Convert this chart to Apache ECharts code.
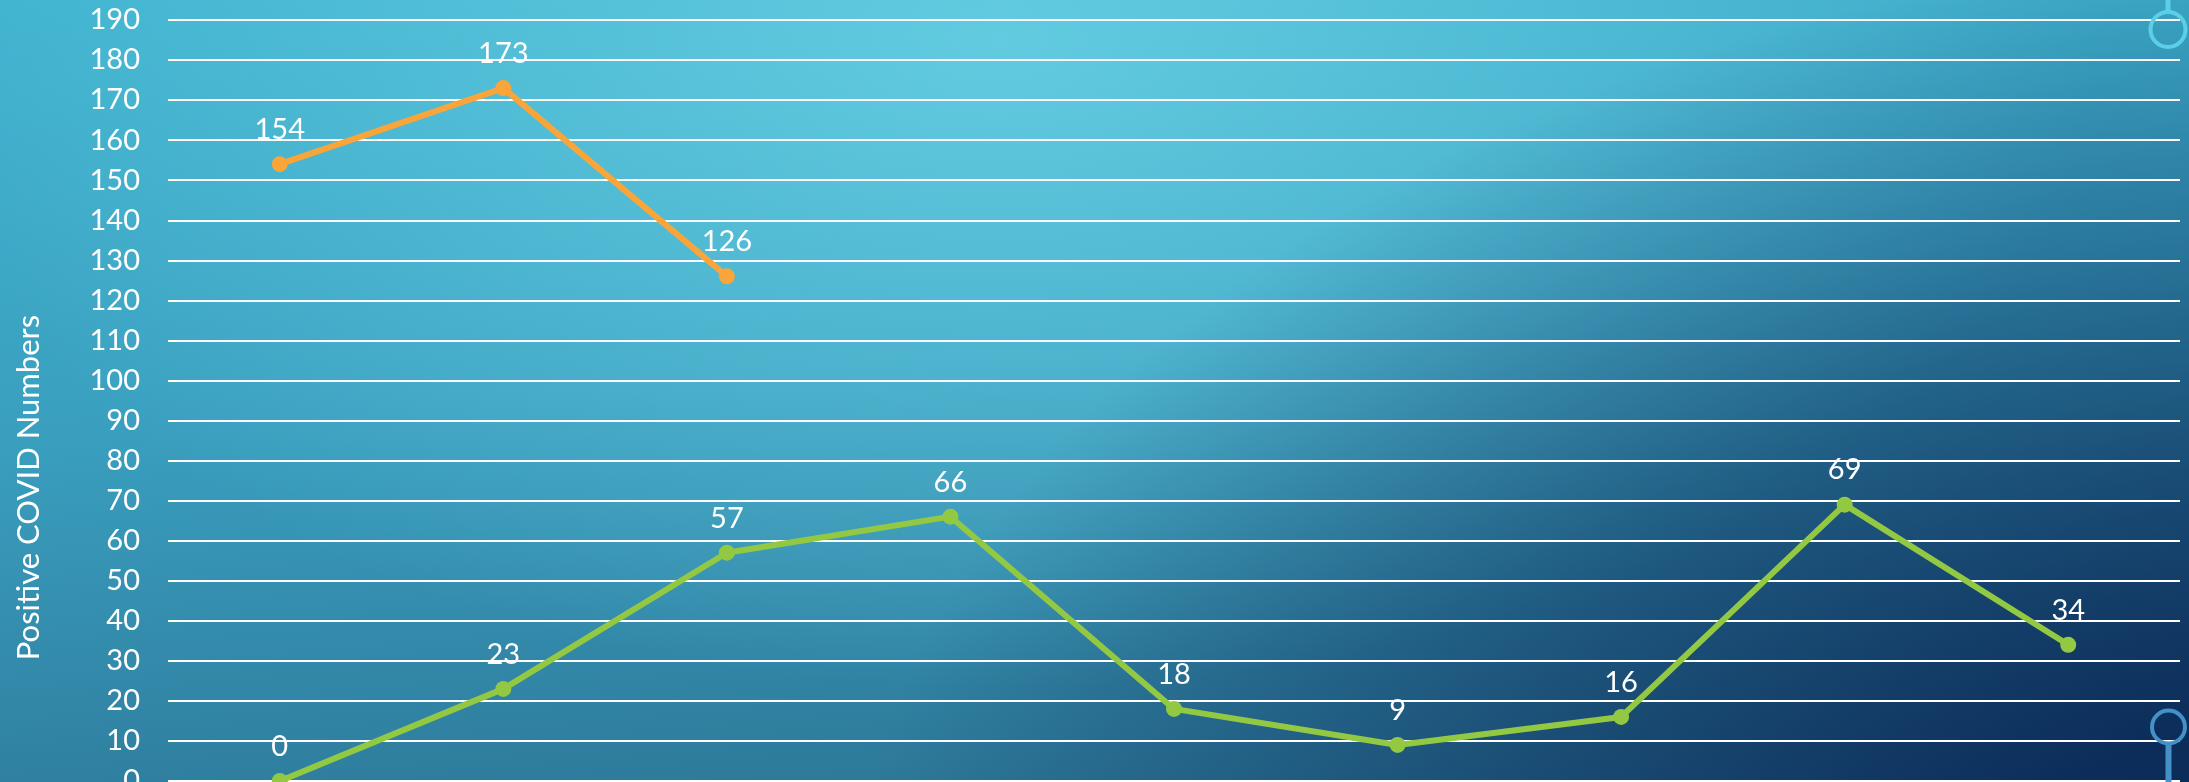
<!DOCTYPE html>
<html>
<head>
<meta charset="utf-8">
<script src="https://cdn.jsdelivr.net/npm/echarts@6/dist/echarts.min.js"></script>
<style>
html, body { margin: 0; padding: 0; overflow: hidden; }
body {
  width: 2189px; height: 782px;
  background:
    radial-gradient(ellipse 1500px 1000px at 2350px 950px, rgba(9,38,84,1) 0%, rgba(9,38,84,0.9) 25%, rgba(9,38,84,0) 100%),
    radial-gradient(ellipse 1100px 650px at 1000px 40px, rgba(104,208,228,0.85) 0%, rgba(104,208,228,0) 100%),
    linear-gradient(175deg, #3fb3cf 0%, #3a9fbf 45%, #2a6f90 100%);
}
#chart { width: 2189px; height: 782px; }
</style>
</head>
<body>
<div id="chart"></div>
<script>
var categories = ['1', '2', '3', '4', '5', '6', '7', '8', '9'];
var seriesA = [154, 173, 126, null, null, null, null, null, null];
var seriesB = [0, 23, 57, 66, 18, 9, 16, 69, 34];
var yTicks = { min: 0, max: 190, interval: 10 };
var yAxisTitle = 'Positive COVID Numbers';

var FONT = 'Lato';
var chart = echarts.init(document.getElementById('chart'), null, { renderer: 'canvas' });

function lineSeries(name, data, color) {
  return {
    name: name,
    type: 'line',
    data: data,
    connectNulls: false,
    symbol: 'circle',
    symbolSize: 16,
    lineStyle: { color: color, width: 6 },
    itemStyle: { color: color },
    label: {
      show: true,
      position: 'top',
      distance: 12,
      color: '#ffffff',
      fontFamily: FONT,
      fontSize: 29
    },
    emphasis: { disabled: true },
    animation: false
  };
}

chart.setOption({
  backgroundColor: 'transparent',
  animation: false,
  grid: { left: 168, right: 9, top: 20, bottom: 1, containLabel: false, outerBoundsMode: 'none' },
  xAxis: {
    type: 'category',
    data: categories,
    boundaryGap: true,
    axisLine: { show: false },
    axisTick: { show: false },
    axisLabel: { show: false },
    splitLine: { show: false }
  },
  yAxis: {
    type: 'value',
    min: yTicks.min,
    max: yTicks.max,
    interval: yTicks.interval,
    name: yAxisTitle,
    nameLocation: 'middle',
    nameRotate: 90,
    nameGap: 124,
    nameTextStyle: {
      color: '#ffffff',
      fontFamily: FONT,
      fontSize: 31,
      padding: [0, 174, 0, 0]
    },
    axisLine: { show: false },
    axisTick: { show: false },
    axisLabel: {
      color: '#ffffff',
      fontFamily: FONT,
      fontSize: 29,
      margin: 28
    },
    splitLine: { show: true, lineStyle: { color: '#ffffff', width: 2 } }
  },
  graphic: [
    { type: 'line', shape: { x1: 2168, y1: 0, x2: 2168, y2: 11 }, style: { stroke: '#5ccfe7', lineWidth: 5 }, z: 10 },
    { type: 'circle', shape: { cx: 2168, cy: 29.5, r: 17.5 }, style: { fill: 'none', stroke: '#5ccfe7', lineWidth: 4 }, z: 10 },
    { type: 'circle', shape: { cx: 2168.5, cy: 727, r: 16.5 }, style: { fill: 'none', stroke: '#4491c8', lineWidth: 4 }, z: 10 },
    { type: 'line', shape: { x1: 2168.5, y1: 745, x2: 2168.5, y2: 782 }, style: { stroke: '#4491c8', lineWidth: 6 }, z: 10 }
  ],
  series: [
    lineSeries('Series A', seriesA, '#f9a53a'),
    lineSeries('Series B', seriesB, '#93c942')
  ]
});
</script>
</body>
</html>
